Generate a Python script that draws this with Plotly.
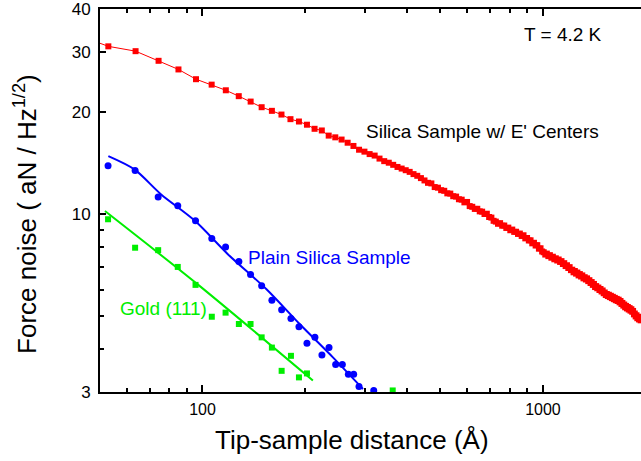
import plotly.graph_objects as go

# ---- data ----
red_x = [42.2, 52.9, 63.6, 74.3, 85.0, 95.7, 106.4, 117.1, 127.8, 138.5, 149.2, 159.9, 170.6, 181.3,
         192.0, 202.7, 213.4, 224.1, 234.8, 245.5, 256.2, 266.9, 277.6, 288.3, 299.0, 309.7, 320.4,
         331.1, 341.8, 352.5, 363.2, 373.9, 384.6, 395.3, 406.0, 416.7, 427.4, 438.1, 448.8, 459.5,
         470.2, 480.9, 491.6, 502.3, 513.0, 523.7, 534.4, 545.1, 555.8, 566.5, 577.2, 587.9, 598.6,
         609.3, 620.0, 630.7, 641.4, 652.1, 662.8, 673.5, 684.2, 694.9, 705.6, 716.3, 727.0, 737.7,
         748.4, 759.1, 769.8, 780.5, 791.2, 801.9, 812.6, 823.3, 834.0, 844.7, 855.4, 866.1, 876.8,
         887.5, 898.2, 908.9, 919.6, 930.3, 941.0, 951.7, 962.4, 973.1, 983.8, 994.5, 1005.2, 1015.9,
         1026.6, 1037.3, 1048.0, 1058.7, 1069.4, 1080.1, 1090.8, 1101.5, 1112.2, 1122.9, 1133.6,
         1144.3, 1155.0, 1165.7, 1176.4, 1187.1, 1197.8, 1208.5, 1219.2, 1229.9, 1240.6, 1251.3,
         1262.0, 1272.7, 1283.4, 1294.1, 1304.8, 1315.5, 1326.2, 1336.9, 1347.6, 1358.3, 1369.0,
         1379.7, 1390.4, 1401.1, 1411.8, 1422.5, 1433.2, 1443.9, 1454.6, 1465.3, 1476.0, 1486.7,
         1497.4, 1508.1, 1518.8, 1529.5, 1540.2, 1550.9, 1561.6, 1572.3, 1583.0, 1593.7, 1604.4,
         1615.1, 1625.8, 1636.5, 1647.2, 1657.9, 1668.6, 1679.3, 1690.0, 1700.7, 1711.4, 1722.1,
         1732.8, 1743.5, 1754.2, 1764.9, 1775.6, 1786.3, 1797.0, 1807.7, 1818.4, 1829.1, 1839.8,
         1850.5, 1861.2, 1871.9, 1882.6, 1893.3, 1904.0, 1914.7, 1925.4, 1936.1, 1946.8]
red_y = [33.8, 31.1, 30.1, 28.2, 26.6, 24.9, 24.0, 23.1, 22.2, 21.4, 20.6, 20.1, 19.6, 19.0,
         18.7, 18.3, 17.8, 17.6, 17.0, 16.8, 16.55, 16.2, 15.85, 15.45, 15.25, 15.0, 14.85,
         14.55, 14.3, 14.15, 13.95, 13.75, 13.6, 13.45, 13.3, 13.1, 12.95, 12.75, 12.55, 12.35,
         12.3, 12.0, 11.95, 11.75, 11.7, 11.5, 11.48, 11.28, 11.25, 11.05,
         11.02, 10.82, 10.85, 10.55, 10.5, 10.35, 10.36, 10.18, 10.16, 10.0,
         10.02, 9.8, 9.76, 9.55, 9.5, 9.36, 9.4, 9.24, 9.25, 9.1,
         9.12, 8.96, 9.0, 8.86, 8.87, 8.74, 8.76, 8.62, 8.66, 8.48,
         8.5, 8.36, 8.37, 8.2, 8.23, 8.08, 8.1, 7.91, 7.93, 7.76,
         7.72, 7.6, 7.65, 7.52, 7.57, 7.44, 7.49, 7.36, 7.41, 7.3,
         7.35, 7.23, 7.27, 7.13, 7.17, 7.03, 7.07, 6.94, 6.98, 6.84,
         6.86, 6.74, 6.8, 6.68, 6.73, 6.6, 6.66, 6.55, 6.6, 6.47,
         6.52, 6.42, 6.47, 6.35, 6.39, 6.27, 6.31, 6.19, 6.23, 6.1,
         6.14, 6.05, 6.08, 5.98, 6.02, 5.92, 5.96, 5.85, 5.88, 5.78,
         5.82, 5.74, 5.79, 5.7, 5.75, 5.66, 5.71, 5.62, 5.67, 5.58,
         5.63, 5.55, 5.6, 5.5, 5.55, 5.44, 5.48, 5.38, 5.42, 5.32,
         5.37, 5.28, 5.33, 5.24, 5.29, 5.2, 5.25, 5.16, 5.19, 5.07,
         5.1, 5.0, 5.04, 4.94, 4.99, 4.9, 4.95, 4.87]

blue_x = [52.8, 63.4, 74.1, 84.6, 95.4, 106.5, 116.9, 127.9, 138.4, 149.2, 159.9, 170.8,
          181.9, 192.0, 202.7, 213.9, 224.3, 235.3, 246.1, 257.5, 268.2, 278.0, 288.2, 318.4]
blue_y = [13.86, 13.43, 11.22, 10.57, 9.56, 8.47, 8.0, 7.25, 6.64, 6.15, 5.58, 5.23,
          4.93, 4.66, 4.17, 4.34, 3.85, 4.05, 3.61, 3.61, 3.38, 3.38, 3.11, 3.03]
blue_fit_x = [52.9, 63.1, 75.6, 94.7, 118.7, 153.9, 192.9, 241.6, 296.1]
blue_fit_y = [14.79, 13.52, 11.42, 9.58, 7.62, 6.02, 4.75, 3.79, 3.06]

green_x = [52.8, 63.4, 74.1, 84.6, 95.4, 106.5, 116.9, 127.9, 138.4, 149.2, 159.9, 170.8,
           181.9, 192.0, 202.7, 362.0]
green_y = [9.65, 7.96, 7.83, 6.99, 6.19, 4.99, 5.13, 4.75, 4.75, 4.34, 4.05, 3.46,
           3.83, 3.31, 3.40, 3.03]
green_fit_x = [51.7, 97.0, 211.0]
green_fit_y = [10.2, 6.2, 3.24]

x_major = [100, 1000]
x_minor = [60, 70, 80, 90, 200, 300, 400, 500, 600, 700, 800, 900]
y_major = [3, 10, 20, 30, 40]
y_minor = [4, 5, 6, 7, 8, 9]

RED = "#ff0000"
BLUE = "#0000ff"
GREEN = "#00ee00"
FONT = "Liberation Sans, Arial, sans-serif"

fig = go.Figure()
fig.add_trace(go.Scatter(x=red_x, y=red_y, mode="lines+markers",
                         line=dict(color=RED, width=1),
                         marker=dict(symbol="square", size=6, color=RED, line=dict(width=0))))
fig.add_trace(go.Scatter(x=blue_x, y=blue_y, mode="markers",
                         marker=dict(symbol="circle", size=7, color=BLUE, line=dict(width=0))))
fig.add_trace(go.Scatter(x=blue_fit_x, y=blue_fit_y, mode="lines",
                         line=dict(color=BLUE, width=2, shape="spline", smoothing=0.8)))
fig.add_trace(go.Scatter(x=green_x, y=green_y, mode="markers",
                         marker=dict(symbol="square", size=6, color=GREEN, line=dict(width=0))))
fig.add_trace(go.Scatter(x=green_fit_x, y=green_fit_y, mode="lines",
                         line=dict(color=GREEN, width=2, shape="spline", smoothing=0.8)))

ann = [
    dict(text="T = 4.2 K", x=0.855, y=0.9325, xanchor="center", yanchor="middle",
         font=dict(size=19, color="black")),
    dict(text="Silica Sample w/ E' Centers", x=0.707, y=0.6805, xanchor="center", yanchor="middle",
         font=dict(size=19, color="black")),
    dict(text="Plain Silica Sample", x=0.27, y=0.3506, xanchor="left", yanchor="middle",
         font=dict(size=19, color=BLUE)),
    dict(text="Gold (111)", x=0.033, y=0.2182, xanchor="left", yanchor="middle",
         font=dict(size=19, color=GREEN)),
    dict(text="Tip-sample distance (Å)", x=0.4658, y=-0.1247, xanchor="center", yanchor="middle",
         font=dict(size=26, color="black")),
    dict(text="Force noise ( aN / Hz<sup>1/2</sup>)", x=-0.1368, y=0.465, textangle=-90,
         xanchor="center", yanchor="middle", font=dict(size=26, color="black")),
]
for a in ann:
    a.update(xref="paper", yref="paper", showarrow=False)

fig.update_layout(
    width=641, height=461,
    margin=dict(l=100, r=0, t=7, b=69),
    paper_bgcolor="white", plot_bgcolor="white",
    showlegend=False,
    font=dict(family=FONT, color="black"),
    annotations=ann,
    xaxis=dict(type="log", range=[1.69897, 3.288], showgrid=False, zeroline=False,
               showline=True, linecolor="black", linewidth=2, mirror="ticks",
               ticks="inside", ticklen=7, tickwidth=1.5, tickcolor="black",
               tickmode="array", tickvals=x_major, ticktext=[str(v) for v in x_major],
               tickfont=dict(size=16), ticklabelstandoff=2, ticklabeloverflow="allow",
               minor=dict(tickmode="array", tickvals=x_minor, ticks="inside", ticklen=4,
                          tickwidth=1.5, tickcolor="black", showgrid=False)),
    yaxis=dict(type="log", range=[0.4769, 1.6025], showgrid=False, zeroline=False,
               showline=True, linecolor="black", linewidth=2, mirror=False,
               ticks="inside", ticklen=6, tickwidth=1.5, tickcolor="black",
               tickmode="array", tickvals=y_major, ticktext=[str(v) for v in y_major],
               tickfont=dict(size=17), ticklabelstandoff=4, ticklabeloverflow="allow",
               minor=dict(tickmode="array", tickvals=y_minor, ticks="inside", ticklen=4,
                          tickwidth=1.5, tickcolor="black", showgrid=False)),
)

fig.write_html("out.html")
